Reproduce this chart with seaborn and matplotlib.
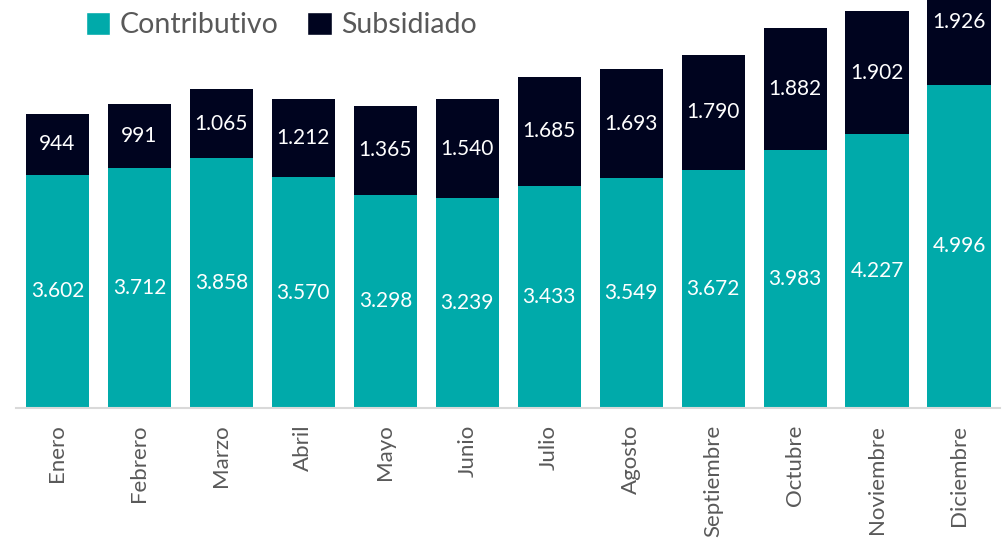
import numpy as np
import pandas as pd
import matplotlib
matplotlib.use("Agg")
import matplotlib.pyplot as plt
from matplotlib.patches import Patch
import seaborn as sns

meses = ["Enero", "Febrero", "Marzo", "Abril", "Mayo", "Junio", "Julio",
         "Agosto", "Septiembre", "Octubre", "Noviembre", "Diciembre"]
contributivo = [3602, 3712, 3858, 3570, 3298, 3239, 3433, 3549, 3672, 3983, 4227, 4996]
subsidiado = [944, 991, 1065, 1212, 1365, 1540, 1685, 1693, 1790, 1882, 1902, 1926]

TEAL = "#00AAAA"
NAVY = "#00041F"
GRAY = "#595959"

sns.set_theme(style="white")
plt.rcParams["font.family"] = ["Lato", "DejaVu Sans"]

df = pd.DataFrame({"Mes": meses, "Contributivo": contributivo, "Subsidiado": subsidiado})
df["Total"] = df["Contributivo"] + df["Subsidiado"]

fig = plt.figure(figsize=(10.05, 5.38), dpi=100)
ax = fig.add_axes([0.0164, 0.2416, 0.9786, 0.7584])

sns.barplot(data=df, x="Mes", y="Total", color=NAVY, width=0.77, saturation=1,
            linewidth=0, ax=ax)
sns.barplot(data=df, x="Mes", y="Contributivo", color=TEAL, width=0.77, saturation=1,
            linewidth=0, ax=ax)

def fmt(v):
    return f"{v:,}".replace(",", ".")

for i, (c, s) in enumerate(zip(contributivo, subsidiado)):
    ax.text(i, c / 2, fmt(c), ha="center", va="center", color="white", fontsize=15)
    ax.text(i, c + s / 2, fmt(s), ha="center", va="center", color="white", fontsize=15)

ax.set_xlim(-0.5, 11.5)
ax.set_ylim(0, 6305)
ax.set_xlabel("")
ax.set_ylabel("")
ax.set_yticks([])
for side in ["top", "right", "left"]:
    ax.spines[side].set_visible(False)
ax.spines["bottom"].set_color("#D9D9D9")
ax.spines["bottom"].set_linewidth(1.5)
ax.tick_params(axis="x", rotation=90, labelsize=16, labelcolor=GRAY, length=0, pad=12)

handles = [Patch(facecolor=TEAL, label="Contributivo"), Patch(facecolor=NAVY, label="Subsidiado")]
fig.legend(handles=handles, loc="upper left", bbox_to_anchor=(0.06, 1.025), ncol=2,
           frameon=False, fontsize=20.5, labelcolor=GRAY, handlelength=0.85, handleheight=0.85,
           handletextpad=0.35, columnspacing=1.0)

fig.savefig("out.png", dpi=100)
